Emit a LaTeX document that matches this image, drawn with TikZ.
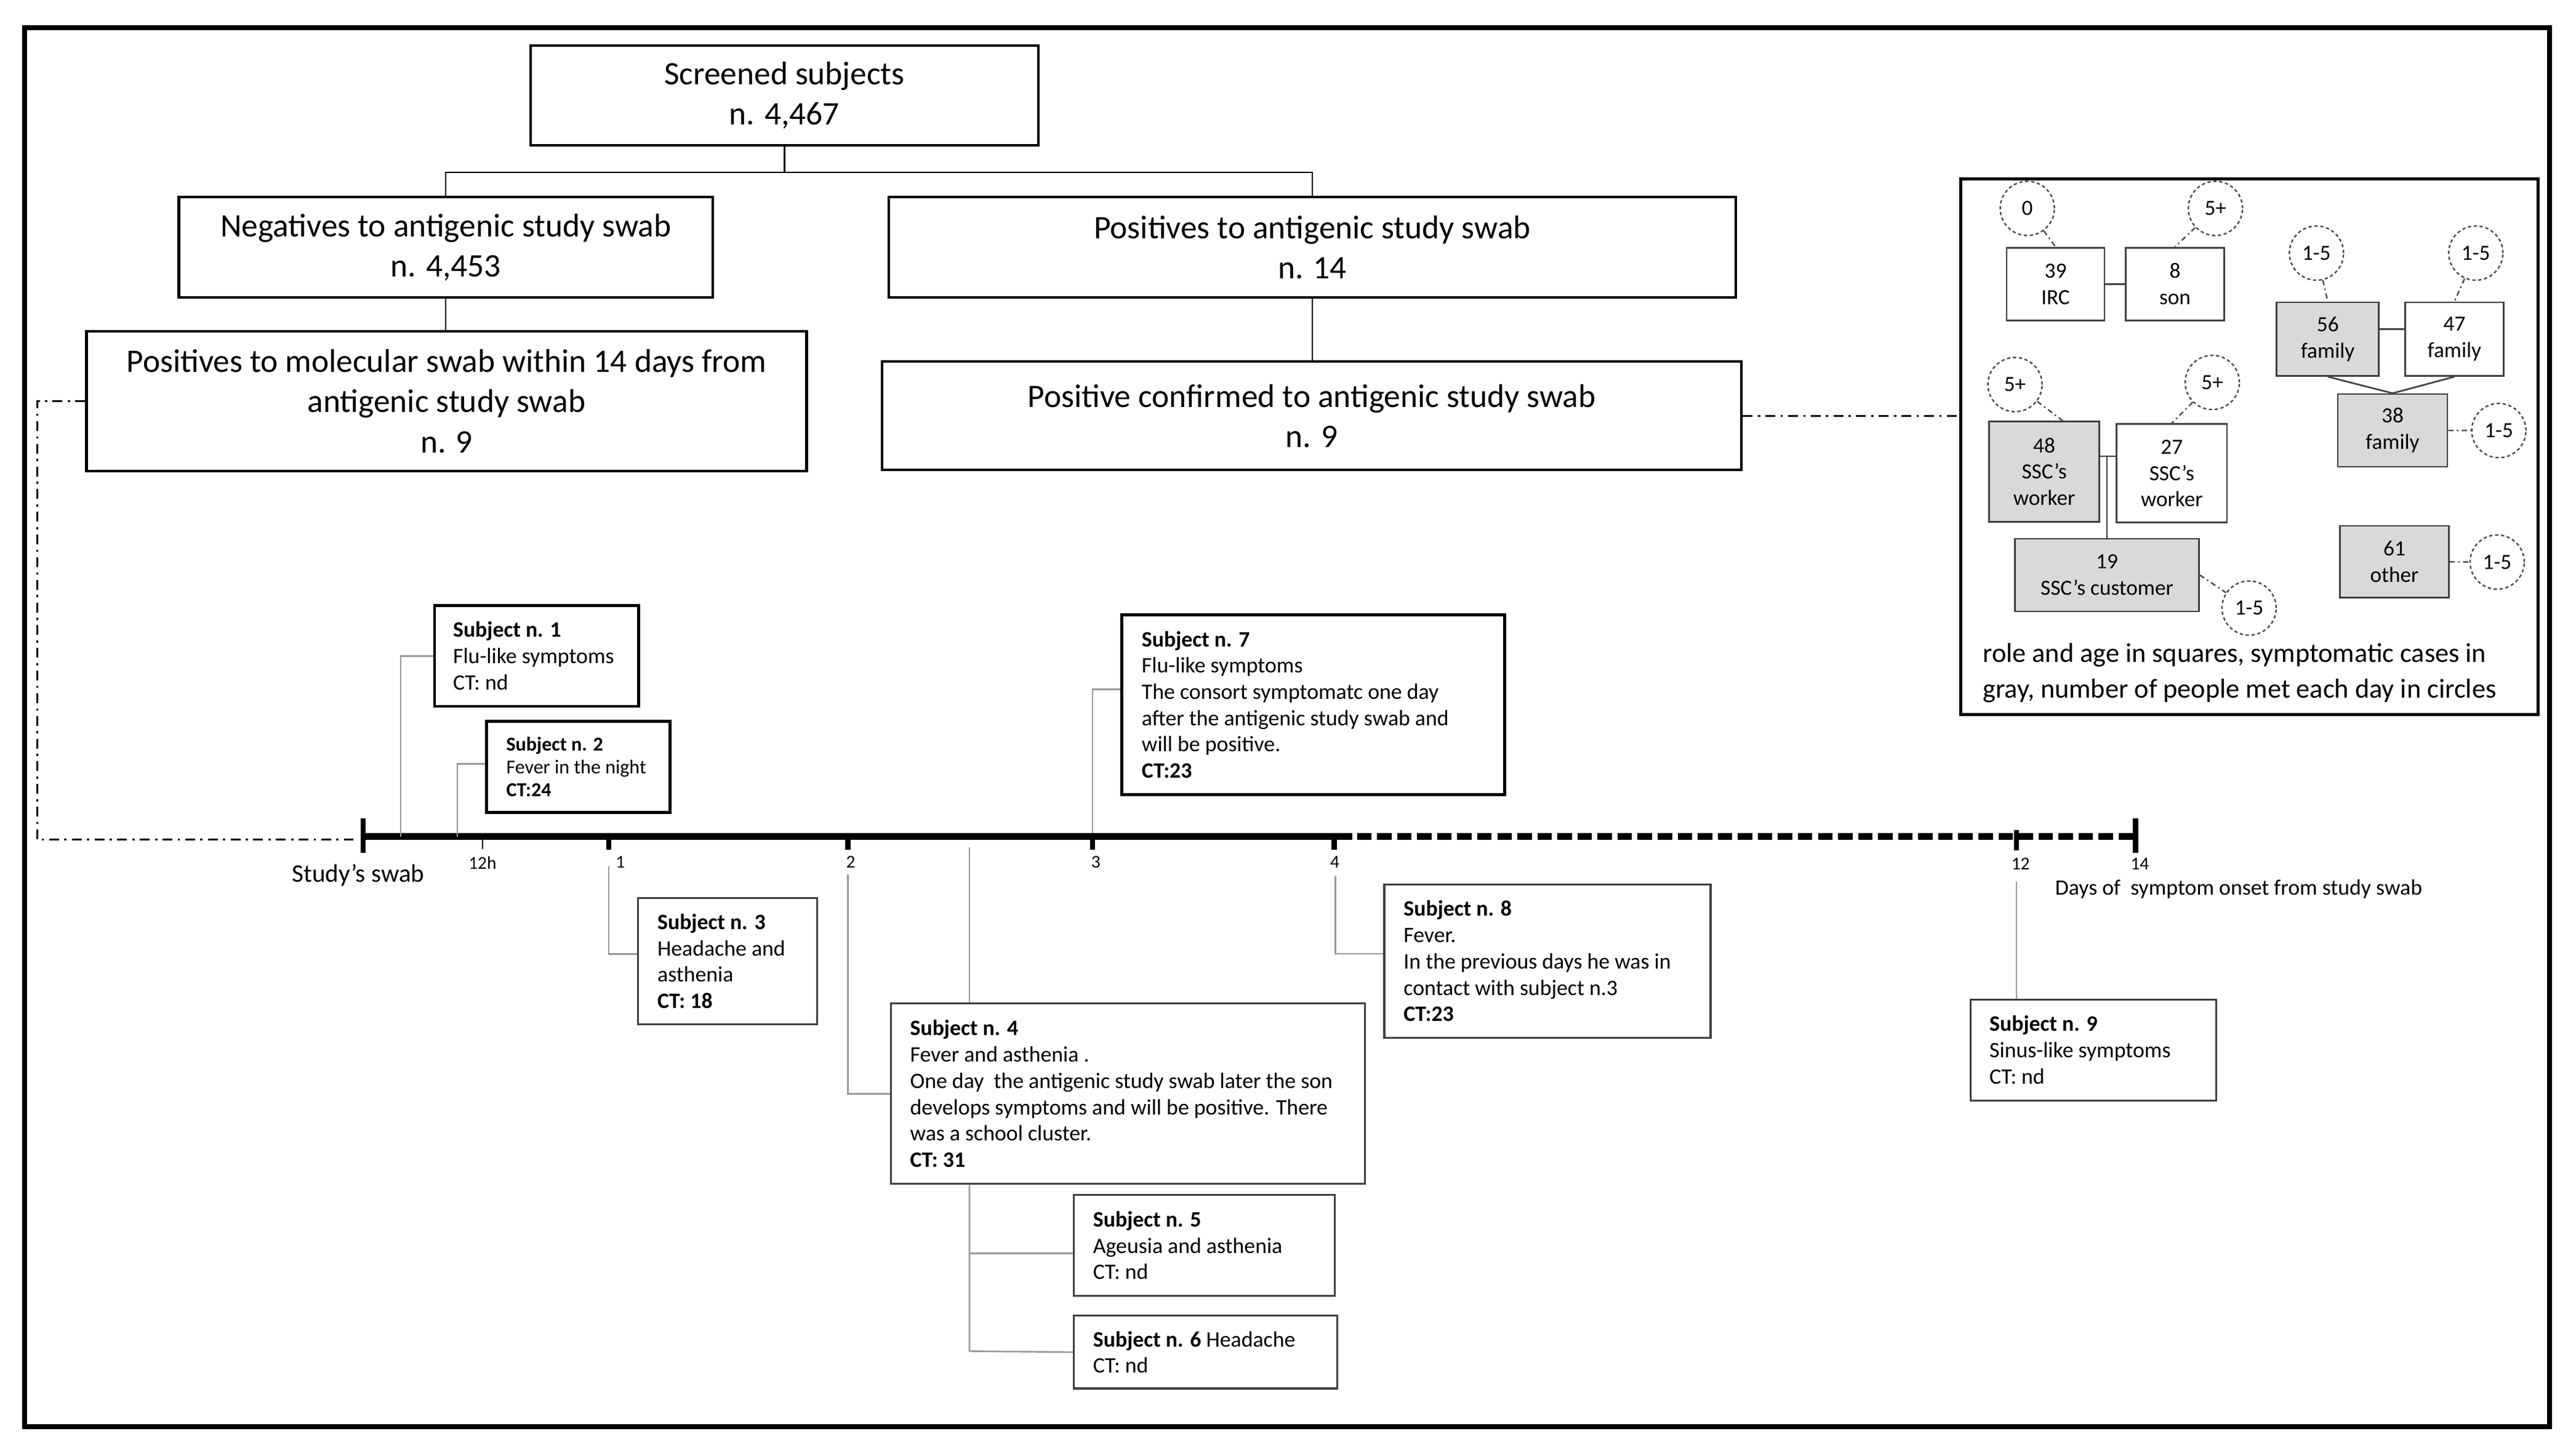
\documentclass[tikz,border=0pt]{standalone}
\usepackage{fontspec}
\setmainfont{Carlito}
\usetikzlibrary{calc}
\begin{document}
\begin{tikzpicture}[x=0.5pt,y=-0.5pt,
  fbox/.style={draw=black,line width=0.8pt,align=center,font=\fontsize{10}{12.2}\selectfont,inner sep=0pt},
  fline/.style={draw=black,line width=0.4pt},
  sboxb/.style={draw=black,line width=0.9pt,inner sep=0pt,anchor=north west},
  sboxg/.style={draw=black!75,line width=0.6pt,inner sep=0pt,anchor=north west},
  stext/.style={align=left,inner sep=0pt,anchor=west,font=\fontsize{6.7}{8}\selectfont},
  sline/.style={draw=black!40,line width=0.5pt},
  ddline/.style={draw=black,line width=0.55pt,dash pattern=on 3pt off 1.6pt on 0.7pt off 1.6pt},
  lbox/.style={draw=black!75,line width=0.5pt,inner sep=0pt,align=center,font=\fontsize{6.6}{8}\selectfont},
  gbox/.style={lbox,fill=black!15},
  circ/.style={circle,draw=black!70,dash pattern=on 1pt off 0.8pt,line width=0.45pt,minimum size=16.5pt,inner sep=0pt,font=\fontsize{6.6}{8}\selectfont},
  cline/.style={draw=black!70,line width=0.45pt,dash pattern=on 1.6pt off 1pt on 0.5pt off 1pt},
  lline/.style={draw=black!75,line width=0.5pt},
  ticklab/.style={font=\fontsize{5.5}{6}\selectfont,inner sep=0pt},
]
\useasboundingbox (0,0) rectangle (1568,885);
% outer frame
\node[draw=black,line width=1.5pt,minimum width=768.5pt,minimum height=425.5pt,inner sep=0pt] (frame) at (783.5,442.5) {};

% flowchart
\node[fbox,minimum width=154.5pt,minimum height=30.4pt] (scr) at (477.5,58.1) {Screened subjects\\n. 4,467};
\node[fbox,minimum width=162.6pt,minimum height=30.5pt] (neg) at (271.4,150.5) {Negatives to antigenic study swab\\n. 4,453};
\node[fbox,minimum width=257.8pt,minimum height=30.5pt] (pos) at (798.8,150.5) {Positives to antigenic study swab\\n. 14};
\node[fbox,minimum width=219.2pt,minimum height=42.55pt] (mol) at (271.8,244.15) {Positives to molecular swab within 14 days from\\antigenic study swab\\n. 9};
\node[fbox,minimum width=261.5pt,minimum height=33pt] (conf) at (798.5,253) {Positive confirmed to antigenic study swab\\n. 9};
\coordinate (j1) at (477.5,105);
\draw[fline] (scr.south) -- (j1);
\draw[fline] (neg.north) |- (j1);
\draw[fline] (pos.north) |- (j1);
\draw[fline] (neg.south) -- (neg.south |- mol.north);
\draw[fline] (pos.south) -- (pos.south |- conf.north);

% legend box
\node[draw=black,line width=0.9pt,minimum width=175.7pt,minimum height=163pt,inner sep=0pt] (leg) at (1369.3,271.7) {};
\draw[ddline] (conf.east) -- (conf.east -| leg.west);

% left dash-dot
\coordinate (dd1) at (22.5,244.15);
\coordinate (dd2) at (22.5,511);
\coordinate (dd3) at (215,511);
\draw[ddline] (mol.west) -- (dd1) -- (dd2) -- (dd3);

% legend content
\node[lbox,minimum width=29.8pt,minimum height=22.15pt] (b39) at (1251.2,172.85) {39\\IRC};
\node[lbox,minimum width=29.9pt,minimum height=22.15pt] (b8) at (1323.9,172.85) {8\\son};
\node[gbox,minimum width=31.1pt,minimum height=22.35pt] (b56) at (1416.9,206.35) {56\\family};
\node[lbox,minimum width=30pt,minimum height=22.35pt] (b47) at (1494,206.35) {47\\family};
\node[gbox,minimum width=33.35pt,minimum height=22.1pt] (b38) at (1456.35,261.9) {38\\family};
\node[gbox,minimum width=33.5pt,minimum height=30.45pt] (b48) at (1244.3,286.95) {48\\SSC’s\\worker};
\node[lbox,minimum width=33.55pt,minimum height=30pt] (b27) at (1321.95,288) {27\\SSC’s\\worker};
\node[gbox,minimum width=56pt,minimum height=22.1pt] (b19) at (1282.5,349.9) {19\\SSC’s customer};
\node[gbox,minimum width=33.05pt,minimum height=21.85pt] (b61) at (1457.45,341.85) {61\\other};

\node[circ] (k0) at (1234,126.8) {0};
\node[circ] (k5a) at (1348.5,126.8) {5+};
\node[circ] (k15a) at (1410,154) {1-5};
\node[circ] (k15b) at (1507,154) {1-5};
\node[circ] (k15c) at (1521,262) {1-5};
\node[circ] (k5b) at (1226.5,234) {5+};
\node[circ] (k5c) at (1346.6,232.7) {5+};
\node[circ] (k15d) at (1369,370) {1-5};
\node[circ] (k15e) at (1520,342) {1-5};

\draw[cline] (k0) -- (b39.north);
\draw[cline] (k5a) -- (b8.north);
\draw[cline] (k15a) -- (b56.north);
\draw[cline] (k15b) -- (b47.north);
\draw[cline] (b38.east) -- (k15c);
\draw[cline] (k5b) -- ([xshift=5.6pt]b48.north);
\draw[cline] (k5c) -- (b27.north);
\draw[cline] (b19.east) -- (k15d);
\draw[cline] (b61.east) -- (k15e);

\draw[lline] (b39.east) -- (b8.west);
\draw[lline] ([yshift=3pt]b56.east) -- ([yshift=3pt]b47.west);
\draw[lline] (b56.south) -- (b38.north);
\draw[lline] (b47.south) -- (b38.north);
\coordinate (j48) at (1282.5,277.6);
\draw[lline] (b48.east |- j48) -- (b27.west |- j48);
\draw[lline] (j48) -- (b19.north);

\node[align=left,anchor=west,inner sep=0pt,font=\fontsize{8.3}{10.85}\selectfont] (legtxt) at (1206.5,409.5) {role and age in squares, symptomatic cases in\\gray, number of people met each day in circles};

% timeline
\coordinate (t0) at (221,509);
\coordinate (tsolid) at (823,509);
\coordinate (tdash) at (826,509);
\coordinate (tend) at (1300,509);
\draw[line width=1.9pt] (t0) -- (tsolid);
\draw[line width=1.9pt,dash pattern=on 4.4pt off 1.7pt] (tdash) -- (tend);
\draw[line width=1.6pt] (221,498) -- (221,519);
\draw[line width=1.6pt] (1300,498) -- (1300,519);
\draw[line width=0.5pt] (293.8,509) -- (293.8,516.7);
\foreach \xx in {370.5,516.2,665,812}{\draw[line width=1.6pt] (\xx,509) -- (\xx,517);}
\draw[line width=1.5pt] (1227.4,505) -- (1227.4,517.5);

\node[ticklab] (l12h) at (293.7,525) {12h};
\node[ticklab] (l1) at (377.6,524.7) {1};
\node[ticklab] (l2) at (517.8,524.7) {2};
\node[ticklab] (l3) at (667,524.7) {3};
\node[ticklab] (l4) at (812.5,524.7) {4};
\node[ticklab] (l12) at (1229.9,525.8) {12};
\node[ticklab] (l14) at (1302.5,525.8) {14};
\node[inner sep=0pt,font=\fontsize{7.7}{9}\selectfont] (swab) at (218,532.4) {Study’s swab};
\node[inner sep=0pt,anchor=west,font=\fontsize{6.7}{8}\selectfont] (days) at (1250.6,540.9) {Days of\ \ symptom onset from study swab};

% subject boxes
\node[sboxb,minimum width=62.1pt,minimum height=30.6pt] (s1) at (263.6,367.6) {};
\node[stext] (s1t) at ([xshift=5.9pt]s1.west) {\textbf{Subject n. 1}\\Flu-like symptoms\\CT: nd};
\node[sboxb,minimum width=55.8pt,minimum height=27.7pt] (s2) at (295.4,438) {};
\node[stext,font=\fontsize{6}{7}\selectfont] (s2t) at ([xshift=6.2pt]s2.west) {\textbf{Subject n. 2}\\Fever in the night\\\textbf{CT:24}};
\node[sboxg,minimum width=54.5pt,minimum height=38.45pt] (s3) at (387.8,545.8) {};
\node[stext] (s3t) at ([xshift=6pt]s3.west) {\textbf{Subject n. 3}\\Headache and\\asthenia\\\textbf{CT: 18}};
\node[sboxg,minimum width=144.25pt,minimum height=54.9pt] (s4) at (541.8,610) {};
\node[stext] (s4t) at ([xshift=5.9pt]s4.west) {\textbf{Subject n. 4}\\Fever and asthenia .\\One day\ \ the antigenic study swab later the son\\develops symptoms and will be positive. There\\was a school cluster.\\\textbf{CT: 31}};
\node[sboxg,minimum width=79.5pt,minimum height=30.75pt] (s5) at (653,726.5) {};
\node[stext] (s5t) at ([xshift=6pt]s5.west) {\textbf{Subject n. 5}\\Ageusia and asthenia\\CT: nd};
\node[sboxg,minimum width=80.2pt,minimum height=22.15pt] (s6) at (653,800) {};
\node[stext] (s6t) at ([xshift=6pt]s6.west) {\textbf{Subject n. 6} Headache\\CT: nd};
\node[sboxb,minimum width=116.5pt,minimum height=54.65pt] (s7) at (682,373.2) {};
\node[stext] (s7t) at ([xshift=6.3pt]s7.west) {\textbf{Subject n. 7}\\Flu-like symptoms\\The consort symptomatc one day\\after the antigenic study swab and\\will be positive.\\\textbf{CT:23}};
\node[sboxg,minimum width=99.3pt,minimum height=46.6pt] (s8) at (842,537.6) {};
\node[stext] (s8t) at ([xshift=6pt]s8.west) {\textbf{Subject n. 8}\\Fever.\\In the previous days he was in\\contact with subject n.3\\\textbf{CT:23}};
\node[sboxg,minimum width=74.85pt,minimum height=30.7pt] (s9) at (1198.8,607.6) {};
\node[stext] (s9t) at ([xshift=5.9pt]s9.west) {\textbf{Subject n. 9}\\Sinus-like symptoms\\CT: nd};

% subject connectors
\coordinate (c1) at (243.9,509);
\draw[sline] (s1.west) -| (c1);
\coordinate (c2) at (278.4,509);
\draw[sline] ([yshift=0.9pt]s2.west) -| (c2);
\coordinate (c3) at (370.5,527);
\draw[sline] (c3) |- ([yshift=2.2pt]s3.west);
\coordinate (c4a) at (516.2,532);
\draw[sline] (c4a) |- (s4.west);
\coordinate (c4b) at (590.1,515.5);
\draw[sline] (c4b) -- (c4b |- s4.north);
\coordinate (c4c) at (590.1,822.15);
\draw[sline] (c4c |- s4.south) -- (c4c) -- (s6.west);
\coordinate (s5in) at ([yshift=-2.4pt]s5.west);
\draw[sline] (c4c |- s5in) -- (s5in);
\coordinate (c7) at (665,507);
\draw[sline] (c7) |- ([yshift=4.6pt]s7.west);
\coordinate (c8) at (812.8,533);
\draw[sline] (c8) |- ([yshift=2.2pt]s8.west);
\coordinate (c9) at (1227.4,536.5);
\draw[sline] (c9) -- (c9 |- s9.north);
\end{tikzpicture}
\end{document}
